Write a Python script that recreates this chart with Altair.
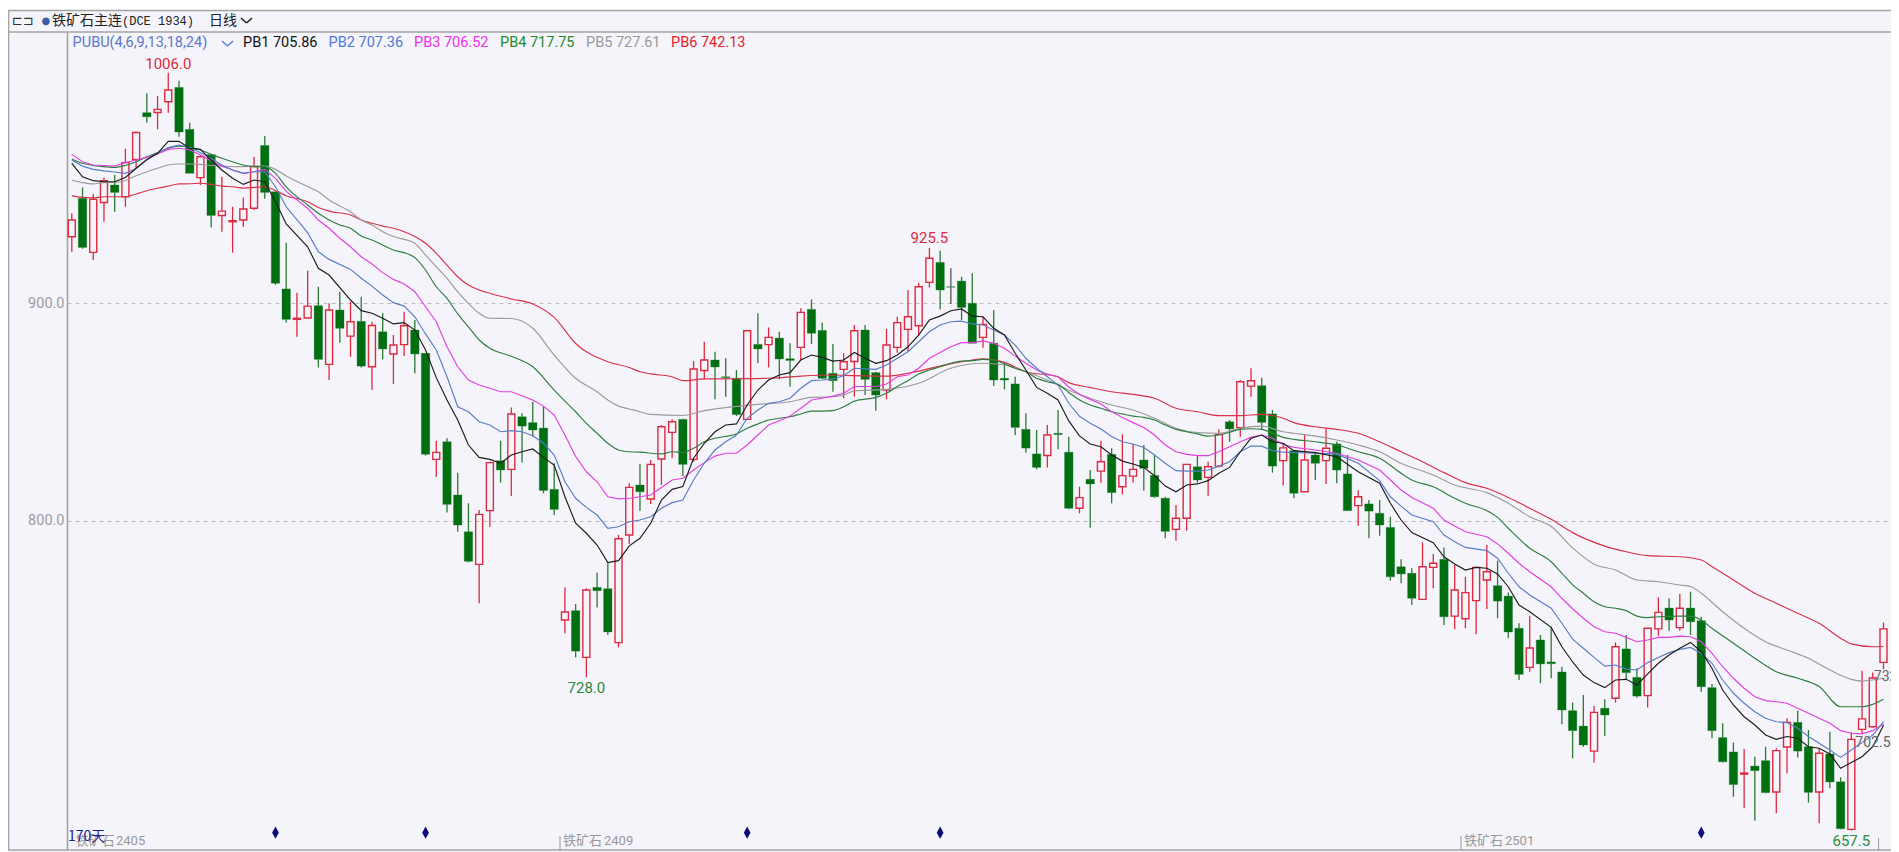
import altair as alt
import pandas as pd

opens = [930.6,948.3,923.4,946.4,954.4,949.0,966.2,987.7,987.8,992.7,
 999.3,980.0,957.8,968.4,940.4,937.5,938.3,943.7,972.6,951.3,
 906.6,892.6,893.2,898.9,871.9,896.9,884.9,891.7,870.8,886.9,
 876.7,881.0,887.7,877.0,828.2,836.3,811.8,794.9,779.9,804.6,
 827.6,823.6,847.8,845.1,842.6,814.4,754.3,758.6,737.1,769.3,
 768.7,743.9,793.4,816.4,810.0,828.4,840.6,846.6,828.2,869.1,
 873.9,866.2,865.5,846.6,881.1,881.0,884.0,874.5,879.7,897.2,
 887.5,867.8,869.6,873.2,887.7,868.1,860.1,879.7,888.0,889.7,
 909.6,918.8,907.6,910.2,900.0,884.3,881.6,865.5,862.9,842.0,
 830.7,830.0,840.2,831.5,805.7,819.0,822.8,830.5,815.6,820.5,
 827.9,820.8,810.3,796.0,801.1,824.8,819.9,825.1,845.5,842.8,
 861.9,862.1,849.1,827.6,832.2,813.3,830.2,827.6,835.3,821.5,
 806.9,807.7,803.4,796.9,778.8,775.8,763.8,778.5,782.2,756.1,
 754.9,763.2,772.7,770.1,765.3,750.5,732.5,745.1,735.0,730.4,
 712.6,705.5,694.0,713.7,718.3,741.0,727.9,719.5,750.2,759.8,
 750.8,759.8,754.0,723.2,700.2,693.6,683.4,687.1,689.6,675.2,
 695.9,707.2,696.0,675.2,692.7,679.9,658.0,704.0,705.2,734.8]
closes = [938.3,925.7,947.8,956.4,951.0,964.7,978.6,985.8,989.2,998.1,
 978.8,959.8,967.4,940.4,942.4,938.0,943.4,962.9,951.0,909.2,
 892.6,893.1,898.7,874.2,896.9,888.5,891.5,871.1,889.8,879.0,
 880.8,889.7,876.7,830.5,831.4,807.5,798.0,781.3,802.9,826.7,
 823.3,849.1,843.5,841.7,813.9,805.2,758.0,740.0,768.1,767.8,
 748.8,791.7,815.3,813.3,825.9,843.2,845.5,825.9,869.8,873.9,
 870.7,865.8,848.8,887.4,879.0,884.3,874.4,873.7,895.8,886.2,
 865.5,864.4,873.1,887.4,865.0,857.8,880.8,891.1,893.8,907.6,
 920.7,906.1,907.4,898.1,881.6,890.3,864.7,864.7,842.9,833.4,
 824.5,839.4,839.6,805.7,810.6,816.9,827.1,812.9,820.7,823.6,
 824.1,811.0,795.1,801.1,825.9,818.7,824.8,839.7,842.2,863.9,
 864.4,845.2,825.1,833.5,812.6,827.9,826.4,833.3,823.3,804.6,
 811.0,804.4,798.0,774.2,775.5,764.3,778.8,780.4,755.8,768.1,
 766.9,778.5,776.5,763.0,748.8,729.3,741.4,734.1,734.2,712.9,
 703.4,696.8,711.8,710.6,742.0,730.1,719.3,750.5,757.8,754.3,
 759.7,753.5,723.6,703.4,689.1,678.6,683.9,685.0,674.9,694.2,
 707.2,694.0,675.0,693.0,679.8,658.3,699.4,708.8,727.6,750.2]
highs = [941.4,953.3,950.3,957.9,959.0,971.1,978.9,996.6,995.3,1006.0,
 1002.4,983.1,968.2,968.7,958.2,944.4,948.7,967.4,976.9,951.3,
 927.9,904.9,915.0,907.6,900.0,905.3,900.7,903.0,891.5,895.4,
 885.4,896.1,892.3,877.0,836.8,837.9,822.1,808.0,804.9,827.1,
 836.8,852.1,849.4,854.7,852.5,826.4,769.3,761.7,768.9,776.1,
 780.4,793.4,817.2,826.1,827.9,844.0,846.6,846.9,873.4,882.3,
 877.7,874.7,869.3,887.4,895.4,888.9,886.9,881.6,897.7,901.8,
 891.2,881.3,877.0,890.0,890.0,868.5,888.2,893.8,906.1,909.5,
 925.5,924.2,916.1,912.2,913.8,893.8,896.9,873.1,866.2,849.4,
 841.7,844.0,850.9,838.6,815.6,823.3,836.8,833.3,839.7,835.3,
 834.8,830.2,811.0,807.2,825.9,829.7,827.1,842.0,846.3,864.7,
 870.1,865.8,850.9,835.6,832.5,839.4,831.7,842.5,836.3,830.2,
 814.1,809.5,809.5,801.8,782.2,778.1,790.0,784.7,787.7,779.6,
 774.2,778.8,788.8,781.6,766.9,752.8,756.3,747.4,751.2,732.8,
 716.3,719.8,714.7,717.8,744.0,747.4,732.1,750.5,764.7,764.3,
 766.3,767.3,755.8,724.9,706.8,697.9,695.0,691.4,696.0,695.3,
 709.1,712.6,703.7,695.3,702.9,681.9,702.5,731.0,730.1,753.1]
lows = [923.7,925.1,919.9,937.5,942.1,944.4,962.1,983.1,980.0,987.7,
 976.6,959.8,954.4,934.9,932.9,923.3,935.2,942.9,948.1,908.4,
 891.2,884.6,893.2,870.5,864.7,881.9,875.4,870.5,860.1,874.2,
 862.9,875.7,867.8,829.9,820.2,803.8,794.9,780.8,762.0,797.2,
 817.5,811.3,826.8,838.6,812.6,802.6,748.2,737.1,728.0,760.1,
 747.4,741.7,789.3,804.6,807.7,816.4,828.7,820.5,827.1,865.0,
 855.8,857.0,848.1,846.3,872.4,870.5,865.0,861.6,873.9,881.3,
 865.2,859.3,856.3,857.0,857.8,850.6,855.8,877.3,877.7,885.4,
 907.3,897.2,899.7,892.3,881.6,879.6,861.9,860.4,839.4,831.3,
 823.6,824.5,832.8,805.2,803.4,796.8,817.5,808.0,812.1,817.5,
 813.8,810.6,791.9,790.8,795.4,817.5,811.5,824.5,836.3,838.6,
 857.0,841.7,822.1,816.2,810.3,813.3,818.7,816.9,817.2,804.6,
 797.7,791.9,793.1,772.4,771.2,761.2,763.8,768.9,752.0,750.0,
 750.5,747.7,759.4,755.1,745.9,726.7,730.5,725.2,727.5,706.4,
 690.7,696.0,688.7,700.9,716.3,726.7,718.7,714.1,747.1,749.4,
 749.4,747.4,721.3,699.9,688.7,673.0,667.7,662.0,674.6,665.4,
 683.8,691.1,670.3,660.8,676.9,658.0,657.5,701.9,704.9,731.6]
dark_bars = [61, 82]
marker_bars = [19, 33, 63, 81, 152]

pb1 = [(0,964.4),(1,958.2),(2,956.4),(3,955.9),(4,955.9),(5,957.9),(6,962.1),(7,966.2),(8,969),(9,974.5),(10,974.5),(11,971.3),(12,970.8),(13,965.9),(14,961.3),(15,957.5),(16,954.7),(17,956.7),(18,955.9),(19,946.7),(20,936.5),(22,926),(23,916.1),(24,913),(26,901.5),(27,896.6),(28,895.4),(29,893.1),(30,890.5),(31,891.1),(32,887.7),(33,878.5),(34,865.8),(35,855.5),(36,846.3),(37,834.8),(38,829.1),(39,828.2),(40,826.4),(41,830.2),(42,831.7),(43,833),(44,829.1),(45,825.6),(46,811),(47,798.8),(48,794.2),(49,788.8),(50,780.7),(51,781.6),(52,788.4),(53,791.9),(54,798.8),(55,809.5),(56,814.4),(57,815.7),(58,828.7),(59,835.6),(60,840.9),(61,844),(62,844.5),(63,853.2),(64,860.1),(65,864.7),(66,867),(67,868.1),(68,873.9),(69,876.2),(70,875.1),(71,873.4),(72,873.9),(73,877.4),(74,874.7),(75,872.4),(76,873.6),(77,876.2),(78,880),(79,885.4),(80,892.3),(81,894.1),(82,896.6),(83,897.4),(84,894.1),(85,893.8),(86,888.5),(87,885.4),(88,877),(89,869.3),(90,861.3),(91,858.6),(92,855.5),(93,845.9),(94,839),(95,835.3),(96,834),(97,830.2),(98,827.4),(99,826.1),(100,824.5),(101,820.7),(102,815.9),(103,813.3),(104,816.4),(105,816.9),(106,818.4),(107,821.8),(108,824.5),(109,831.7),(110,837.9),(111,839.4),(112,836.3),(113,835.6),(114,832.2),(116,831.3),(118,829.4),(120,822.5),(122,817.2),(123,808),(124,800.3),(125,794.5),(127,789.9),(128,783.4),(129,780.1),(130,777.3),(131,778.5),(132,778.1),(133,775.5),(134,769.6),(135,761.2),(136,758.1),(138,750.9),(139,742),(140,735),(141,729),(142,725.5),(143,723.2),(144,726.7),(145,727),(146,724.4),(147,729.5),(148,734.4),(149,738.2),(150,741.3),(151,744),(152,739.7),(153,732.1),(154,722.1),(155,715.2),(156,709.8),(157,706),(158,701.4),(159,699.4),(160,700.7),(161,699.9),(162,696),(163,695.3),(164,692.7),(165,686.1),(166,688.7),(167,691.4),(168,696),(169,705.9)]
pb2 = [(0,965.9),(1,963.1),(2,961.6),(3,960.9),(4,960.4),(5,959.8),(6,962),(7,965.9),(8,969),(9,971.7),(10,972.8),(11,971.7),(12,969.3),(13,966.7),(14,963.6),(15,961.3),(16,959.8),(17,960.5),(18,960.5),(19,953.6),(20,944.4),(22,932.5),(23,923.7),(24,920.2),(26,915.6),(27,911.5),(28,907.9),(29,903.8),(30,900.3),(31,898.7),(32,893.8),(33,885.9),(34,878.5),(35,866.2),(36,852.4),(37,850.1),(38,845.5),(39,844),(40,840.9),(41,841.4),(42,840.9),(43,839.1),(44,835.6),(45,830.2),(46,817.9),(47,810.3),(48,806.1),(49,802.6),(50,796.5),(51,797.2),(52,799.5),(53,800.3),(54,801.8),(55,805.7),(56,808.3),(57,809.5),(58,818.7),(59,826.4),(60,832.5),(61,836.3),(62,839.4),(63,847.1),(64,850.9),(65,854),(66,854.7),(67,856.3),(68,860.9),(69,864.4),(70,864.7),(71,865.2),(72,866.7),(73,870.1),(75,869.6),(76,871.6),(77,874.7),(78,877.7),(79,882.3),(80,886.9),(81,890),(82,891.5),(83,891.8),(84,890.5),(85,890),(86,887.7),(87,885.4),(88,880.8),(89,874.7),(90,870.1),(91,866.2),(92,862.4),(93,854),(94,848),(95,844.8),(96,842.2),(97,838.7),(98,836.3),(99,835.3),(100,833.7),(101,830.2),(102,826.4),(103,823),(104,822.8),(105,822.8),(106,823.3),(107,825.1),(108,827.1),(109,831.7),(110,834.3),(111,834.3),(112,832.2),(113,831.5),(116,831),(118,830.7),(120,826.4),(122,818.4),(123,811),(124,806.7),(125,802.6),(127,799.5),(128,793.4),(129,790.3),(130,787.7),(132,786.2),(133,782.7),(134,775.8),(135,769.6),(136,765.8),(138,759.7),(139,752.8),(140,745.5),(141,741.3),(142,737.1),(143,733.1),(144,733.6),(145,731.7),(146,731.3),(147,734.7),(148,737.1),(149,739.3),(150,740.8),(151,741.7),(152,739),(153,734.4),(154,726.7),(155,720.6),(156,716),(157,712.1),(158,709.1),(159,707.5),(160,707.1),(161,704.5),(162,700.7),(163,697.6),(164,694.5),(165,691.1),(166,694.5),(167,697.9),(168,701.4),(169,707.4)]
pb3 = [(0,968.5),(1,965.1),(2,963.6),(3,963.4),(4,963.1),(5,964.7),(6,965.9),(7,967.1),(8,968.7),(9,970.8),(10,971.3),(11,970.5),(12,968.2),(13,965.6),(14,963.1),(15,961.3),(16,959.8),(17,960.5),(18,961.6),(19,957.5),(20,951.5),(22,943.7),(23,938.3),(24,934.5),(25,929.9),(26,926),(27,921.4),(28,918.1),(29,914.1),(30,911),(31,908.9),(32,905.3),(33,898.4),(34,891.5),(35,880),(36,870.8),(37,864.7),(38,862.4),(39,860.9),(40,859.3),(41,859.3),(43,855.5),(44,852.7),(45,848.6),(46,839.4),(47,829.5),(48,822.5),(49,817.9),(50,811),(51,810),(52,810.3),(53,811),(54,811.8),(55,815.3),(56,818.7),(57,819.5),(58,823.3),(59,826.7),(60,829.7),(61,831),(62,831),(63,834.8),(64,839.4),(65,844),(66,846),(67,848.1),(68,851.7),(69,855.5),(70,856.3),(71,857.3),(72,858.6),(73,861.7),(75,861.7),(76,862.9),(77,866.2),(78,867),(79,870.1),(80,874.7),(81,877.4),(82,880),(83,881.9),(84,881.9),(85,882.7),(86,881.6),(87,879.3),(88,875.7),(89,872.4),(90,869.3),(91,867.5),(92,866.2),(93,861.5),(94,858),(95,855.8),(96,853.7),(97,850.1),(98,847.5),(99,845.1),(100,842.9),(101,839.4),(102,834.8),(103,831.7),(104,830.5),(105,829.9),(106,829.9),(107,831.7),(108,834),(109,836.3),(110,838.3),(111,839.4),(112,837.9),(113,835),(114,833.7),(116,832.5),(118,831),(120,827.9),(122,823.3),(123,818.7),(124,814.1),(125,810.7),(127,805.7),(128,800.3),(129,797.5),(130,794.9),(132,792.6),(133,789.3),(134,785),(135,780.4),(136,776.5),(138,769.6),(139,764.3),(140,759.5),(141,755.1),(142,751.2),(143,748.9),(144,748.2),(145,746.3),(146,744.3),(147,745.1),(148,746.3),(149,746.3),(150,746.9),(151,746.6),(152,744.3),(153,739),(154,732.8),(155,727.5),(156,722.9),(157,719),(158,717.2),(159,716.7),(160,716),(161,713.7),(162,711.4),(163,709.1),(164,706.8),(165,703.4),(166,702.2),(167,701.9),(168,703.4),(169,706.5)]
pb4 = [(0,966.4),(1,964.4),(2,963.4),(3,962.9),(4,962.5),(5,963.4),(6,965.1),(7,967.4),(8,969.3),(9,971.3),(10,972.3),(11,971.7),(12,970.5),(13,968.5),(14,966.7),(15,965.1),(16,963.6),(17,962.9),(18,962.9),(19,959.8),(20,953.5),(22,945.2),(23,941.4),(24,938.3),(25,936),(26,934.5),(27,930.9),(28,929.1),(29,926.8),(30,924.5),(31,923.3),(32,921),(33,915.3),(34,907.6),(35,902.3),(36,895.1),(37,889.2),(38,883.1),(39,879.3),(41,875.6),(43,870.8),(45,860.1),(46,855),(47,850.1),(48,844.8),(49,840.2),(50,835.6),(51,832.5),(52,831.7),(53,831.5),(55,830.7),(56,831.7),(57,831.3),(58,833.3),(59,836.3),(60,837.9),(61,838.7),(62,839.9),(63,842.5),(64,844.5),(65,846.3),(66,847.1),(67,847.8),(68,849.1),(69,850.4),(70,850.4),(71,850.6),(72,852.4),(73,855),(75,856.7),(76,858.6),(77,861.7),(78,864.4),(79,867.5),(80,869.3),(81,870.8),(82,872.4),(83,873.4),(84,873.6),(85,874.2),(86,873.9),(87,872.1),(88,870.1),(89,868.5),(90,865.5),(91,863.9),(92,862.7),(93,859),(94,855.5),(95,853.2),(96,851.7),(97,850.1),(98,849.1),(99,848.1),(100,847.5),(101,846.3),(102,844),(103,842),(104,840.9),(105,839.9),(106,838.9),(107,839.4),(108,840.7),(109,842),(110,842.3),(111,842),(112,840.2),(113,838.3),(114,837.4),(116,836.3),(118,834.8),(120,831.7),(122,828.7),(124,821.8),(125,818.7),(127,815.6),(129,810.3),(130,808),(132,804.6),(133,801.5),(134,796.5),(136,787.3),(138,781.1),(139,775.8),(140,770.5),(141,766.6),(142,762.7),(143,760.4),(144,759.7),(145,758.6),(146,756.1),(147,755.4),(148,755.8),(150,756.1),(151,756.1),(152,754.3),(153,750.5),(155,743.6),(157,736.7),(159,730.5),(161,727.5),(163,723.7),(165,714.4),(167,714.4),(168,715.5),(169,717.8)]
pb5 = [(0,956.7),(1,955.5),(2,954.9),(3,955.5),(4,955.6),(5,956.4),(6,958.7),(7,960.5),(8,962.1),(9,963.6),(10,964.1),(11,964.1),(12,963.9),(13,963.4),(14,963.1),(15,962.9),(16,962.9),(17,963.1),(18,963.1),(19,961.6),(20,958.6),(22,953.7),(23,951.3),(24,947.5),(26,942.1),(27,938.3),(28,936),(29,932.9),(30,930.7),(31,929.4),(32,927.6),(33,922.2),(34,916.8),(35,911.5),(36,905.3),(37,900),(38,895.4),(39,893.1),(41,893),(43,888.5),(45,876.2),(47,865.5),(49,859.3),(50,855.5),(51,852.7),(52,851.4),(53,850.1),(54,848.9),(57,848.4),(59,850.6),(61,852),(64,853.5),(67,854.7),(69,856.7),(71,857),(72,857.8),(73,859.7),(76,860.4),(79,863.2),(82,870.1),(85,872.4),(87,871.6),(89,868.5),(91,864.7),(93,860),(95,856.3),(97,853.2),(99,850.9),(101,847.1),(103,842.5),(105,840.5),(107,840.2),(109,842.5),(111,843.5),(113,840.9),(114,840.2),(116,838.9),(118,837.1),(120,834.8),(122,831.7),(124,826.4),(127,821),(129,816.4),(132,812.9),(134,808),(136,801.8),(138,797.3),(140,787.5),(142,780),(144,777.3),(146,772.7),(148,771.9),(150,770.4),(151,769.7),(152,766.6),(154,758.1),(156,750.5),(158,744.3),(160,740.5),(162,736.7),(164,731.3),(166,727),(167,726.2),(169,727.6)]
pb6 = [(0,949.5),(1,948.7),(2,948.5),(3,949),(4,949),(5,949),(6,950.3),(7,951.8),(8,952.9),(9,953.9),(10,954.9),(11,955),(12,955.2),(13,954.7),(14,953.9),(15,953.6),(16,953),(17,953.3),(18,953.6),(19,951.8),(20,949.5),(22,946.7),(23,944.1),(24,942.4),(26,940.6),(27,938.3),(28,936.8),(29,935.5),(30,934.5),(31,932.9),(32,930.7),(33,927.6),(34,923),(35,917.6),(36,912.2),(37,908.4),(38,906.1),(39,904.6),(41,902),(43,899.7),(45,893.5),(47,881.5),(50,873.1),(52,870.5),(53,868.5),(54,867.5),(56,866.2),(57,864.4),(59,865.2),(62,865.3),(65,865.5),(68,866.5),(71,867),(73,866.7),(76,866.5),(78,867.8),(81,871.1),(84,873.9),(85,874.4),(87,872.8),(89,868.5),(92,866.2),(93,863.5),(95,861.3),(97,859.3),(99,858.1),(101,856.3),(103,851.7),(105,850.1),(107,848.3),(109,848.3),(111,848.9),(113,847.1),(114,845.1),(116,843.2),(118,842),(120,840.2),(122,836.3),(124,831.7),(126,827.1),(128,822.1),(130,817.5),(132,814.9),(134,810.7),(136,805.7),(138,800.6),(140,794.5),(143,788.3),(145,785.7),(147,783.9),(150,783.4),(152,781.9),(153,778.9),(155,772.7),(157,766.6),(159,762),(161,757.4),(163,752.8),(165,745.9),(166,743.3),(168,742),(169,742.1)]

line_colors = {"PB6": "#d8324a", "PB5": "#9b9b9b", "PB4": "#2f7d40", "PB3": "#e23fe2", "PB2": "#5a7cc6", "PB1": "#1c1c1c"}
line_curve = {"PB6": "monotone", "PB5": "monotone", "PB4": "monotone", "PB3": "linear", "PB2": "linear", "PB1": "linear"}
line_data = {"PB1": pb1, "PB2": pb2, "PB3": pb3, "PB4": pb4, "PB5": pb5, "PB6": pb6}

legend_texts = ["PUBU(4,6,9,13,18,24)", "PB1 705.86", "PB2 707.36", "PB3 706.52", "PB4 717.75", "PB5 727.61", "PB6 742.13"]
legend_colors = ["#5a78cc", "#111111", "#4f78d8", "#ee30ee", "#1f8a2e", "#9a9a9a", "#e8202c"]
legend_px = [72.6, 243, 328.6, 414, 500, 586, 671]

BG = "#f4f4fa"
RED = "#dd2a40"
GREEN = "#006f12"
NUM = "Roboto"
CJK = "Noto Sans CJK SC"
L, T = 67, 32          # plot-area origin on the page
W, H = 1824, 818
R_EDGE = L + W

rows = []
for i, (o, h, l, c) in enumerate(zip(opens, highs, lows, closes)):
    kind = "up" if c >= o else "down"
    rows.append(dict(i=i, open=o, high=h, low=l, close=c, top=max(o, c), bot=min(o, c), kind=kind,
                     wick="#555555" if i in dark_bars else (RED if kind == "up" else "#2b7a33")))
df = pd.DataFrame(rows)

xs = alt.Scale(domain=[-0.448, 169.70], nice=False, zero=False, padding=0)
ys = alt.Scale(domain=[648.5, 1024.8], nice=False, zero=False, padding=0)
price_axis = alt.Axis(values=[800, 900], format=".1f", title=None, ticks=False,
    labelColor="#9c9c9c", labelFont=NUM, labelFontSize=14.5, labelPadding=3,
    domainColor="#a4a4a4", domainWidth=1.6, grid=True, gridColor="#bdbdbd", gridDash=[4, 4], gridWidth=1)
X = alt.X("i:Q", scale=xs, axis=None)
Y = lambda f: alt.Y(f, scale=ys, axis=price_axis)


def rule(x1, x2, y1, y2, color="#a4a4a4", width=1.6):
    return alt.Chart(pd.DataFrame({"a": [0]})).mark_rule(color=color, strokeWidth=width).encode(
        x=alt.value(x1 - L), x2=alt.value(x2 - L), y=alt.value(y1 - T), y2=alt.value(y2 - T))


def label(txt, px, py, color, size=15, font=NUM, align="left"):
    return alt.Chart(pd.DataFrame({"t": [txt]})).mark_text(
        align=align, baseline="middle", color=color, fontSize=size, font=font
    ).encode(x=alt.value(px - L), y=alt.value(py - T), text="t:N")


layers = []

base = alt.Chart(df)
layers += [
    base.mark_rule(strokeWidth=1.3).encode(x=X, y=Y("high:Q"), y2="top:Q", color=alt.Color("wick:N", scale=None)),
    base.mark_rule(strokeWidth=1.3).encode(x=X, y=Y("bot:Q"), y2="low:Q", color=alt.Color("wick:N", scale=None)),
    base.transform_filter("datum.kind == 'down'").mark_bar(size=8.4, color=GREEN, stroke=GREEN, strokeWidth=0.3).encode(
        x=X, y=Y("top:Q"), y2="bot:Q"),
    base.transform_filter("datum.kind == 'up'").mark_bar(size=7, fillOpacity=0, stroke=RED, strokeWidth=1.4).encode(
        x=X, y=Y("top:Q"), y2="bot:Q"),
]

for name in ["PB6", "PB5", "PB4", "PB3", "PB2", "PB1"]:
    pts = pd.DataFrame(line_data[name], columns=["i", "v"])
    layers.append(alt.Chart(pts).mark_line(color=line_colors[name], strokeWidth=1.15, clip=True,
                                           interpolate=line_curve[name]).encode(x=X, y=Y("v:Q")))

# extreme-price labels
value_labels = pd.DataFrame([
    dict(i=9, v=1006.0, t="1006.0", dy=-9, c=RED),
    dict(i=80, v=925.5, t="925.5", dy=-10, c=RED),
    dict(i=48, v=728.0, t="728.0", dy=11, c="#2f8a3a"),
    dict(i=166, v=657.5, t="657.5", dy=11, c="#2f8a3a"),
])
for d, sub in value_labels.groupby("dy"):
    layers.append(alt.Chart(sub).mark_text(baseline="middle", align="center", dy=int(d), fontSize=15, font=NUM).encode(
        x=X, y=Y("v:Q"), text="t:N", color=alt.Color("c:N", scale=None)))
layers.append(alt.Chart(pd.DataFrame({"i": [166], "v": [702.5], "t": ["702.5"]})).mark_text(
    align="left", baseline="middle", dx=4, dy=10, fontSize=14, font=NUM, color="#666666").encode(x=X, y=Y("v:Q"), text="t:N"))
layers.append(alt.Chart(pd.DataFrame({"i": [168], "v": [730.1], "t": ["732"]})).mark_text(
    align="left", baseline="middle", dx=1, dy=4, fontSize=14, font=NUM, color="#666666").encode(x=X, y=Y("v:Q"), text="t:N"))

# rollover markers on the bottom edge
diamond = "M0,-1L0.55,0L0,1L-0.55,0Z"
layers.append(alt.Chart(pd.DataFrame({"i": marker_bars})).mark_point(
    shape=diamond, filled=True, color="#0b0b7a", size=150, opacity=1).encode(x=X, y=alt.value(832.7 - T)))

# frame
layers += [
    rule(8, R_EDGE, 9, 9, "white", 2),
    rule(8, R_EDGE, 10.5, 10.5),
    rule(8, R_EDGE, 32, 32),
    rule(8.5, 8.5, 10, 850),
    rule(8, R_EDGE, 850, 850),
]

# header
layers += [
    label("⊏⊐", 12, 20.5, "#333333", size=13, font="DejaVu Sans"),
    label("●", 41.5, 20.5, "#3e5ea8", size=10, font="DejaVu Sans"),
    label("铁矿石主连", 52, 20.5, "#222222", size=14, font=CJK),
    label("(DCE 1934)", 122, 20.5, "#222222", size=12, font="Liberation Mono"),
    label("日线", 209, 20.5, "#222222", size=14, font=CJK),
    rule(241, 246.5, 18, 23, "#222222", 1.6),
    rule(246.5, 252, 23, 18, "#222222", 1.6),
    rule(222, 227.5, 41, 46, "#4f78d8", 1.4),
    rule(227.5, 233, 46, 41, "#4f78d8", 1.4),
]
for txt, col, px in zip(legend_texts, legend_colors, legend_px):
    layers.append(label(txt, px, 42.7, col, size=14.5))

# bottom-edge contract labels
layers += [
    label("铁矿石", 75.5, 840.5, "#999999", size=13, font=CJK),
    label("2405", 116, 840.5, "#999999", size=13),
    label("铁矿石", 563, 840.5, "#999999", size=13, font=CJK),
    label("2409", 604, 840.5, "#999999", size=13),
    label("铁矿石", 1464, 840.5, "#999999", size=13, font=CJK),
    label("2501", 1505, 840.5, "#999999", size=13),
    label("170天", 68, 836.7, "#1d1d8a", size=14, font=CJK),
    rule(560, 560, 836, 850, "#999999", 1),
    rule(1461, 1461, 836, 850, "#999999", 1),
    rule(1878.6, 1878.6, 838, 850, "#999999", 1),
]

chart = alt.layer(*layers).properties(
    width=W, height=H,
    background=BG,
    padding={"left": L - 8, "top": T - 8, "right": 0, "bottom": 2},
    autosize=alt.AutoSizeParams(type="none", contains="content"),
).configure_view(stroke=None, fill=BG)

chart.save("out.html", embed_options={"renderer": "svg", "actions": False})
